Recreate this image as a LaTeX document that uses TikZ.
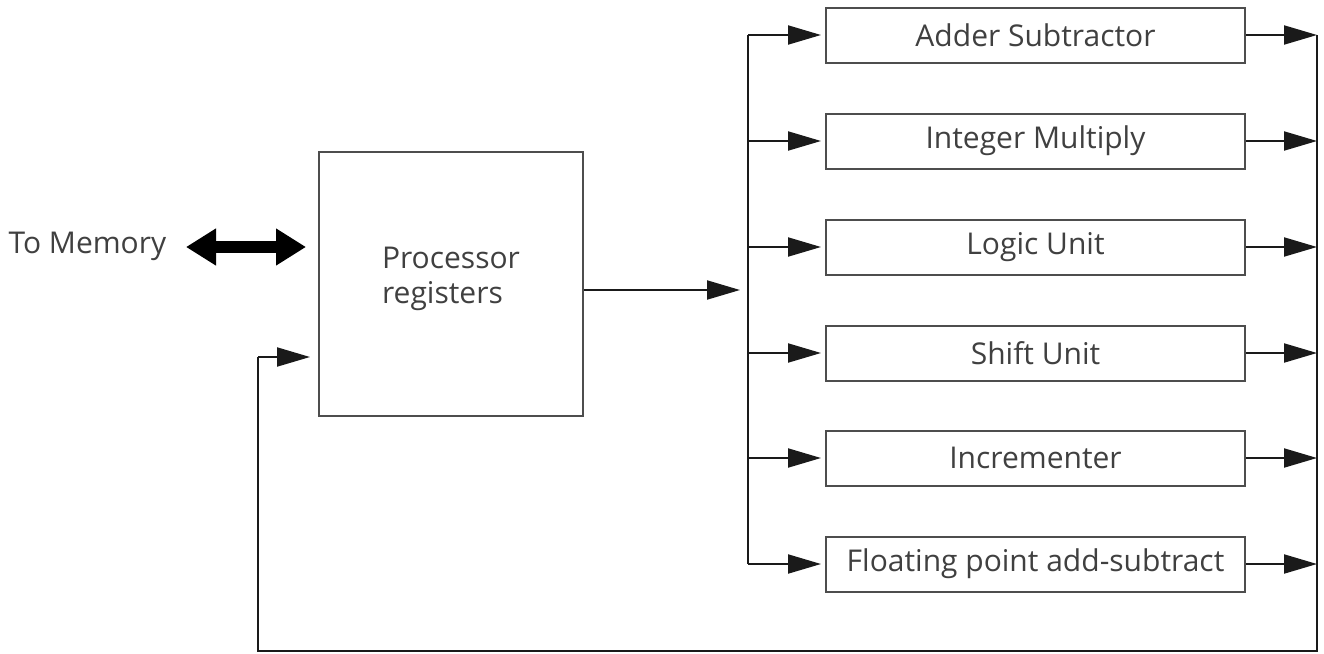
\documentclass[tikz,border=0pt]{standalone}
\usepackage{fontspec}
\setmainfont{Open Sans}
\usetikzlibrary{arrows.meta,calc}
\definecolor{ink}{HTML}{1A1A1A}
\definecolor{boxline}{HTML}{4D4D4D}
\definecolor{txt}{HTML}{404040}
\begin{document}
\begin{tikzpicture}[x=1pt,y=-1pt,
  lbl/.style={text=txt,font=\fontsize{30}{35}\selectfont},
  unitbox/.style={draw=boxline,line width=2pt,minimum width=419pt,minimum height=55pt,
    inner sep=0pt,lbl},
  wire/.style={draw=ink,line width=2pt},
  arr/.style={wire,-{Triangle[length=33pt,width=19pt]}},
  bigarr/.style={draw=black,line width=12pt,{Triangle[length=30pt,width=35pt]}-{Triangle[length=30pt,width=35pt]}}]
\useasboundingbox (0,0) rectangle (1324,653);

% processor register file
\node[draw=boxline,line width=2pt,minimum width=264pt,minimum height=264pt,inner sep=0pt]
  (proc) at (451,284) {};
\node[align=left,lbl] (proclabel) at (451,279) {Processor\\registers};

% memory link
\node[lbl,anchor=west] (mem) at (5,246) {To Memory};
\coordinate (memL) at (186,247);
\coordinate (memR) at (306,247);
\draw[bigarr] (memL) -- (memR);

% functional units
\node[unitbox] (u1) at (1035.5,35)  {Adder Subtractor};
\node[unitbox] (u2) at (1035.5,141) {Integer Multiply};
\node[unitbox] (u3) at (1035.5,247) {Logic Unit};
\node[unitbox] (u4) at (1035.5,353) {Shift Unit};
\node[unitbox] (u5) at (1035.5,458) {Incrementer};
\node[unitbox] (u6) at (1035.5,564) {Floating point add-subtract};

% input bus and output bus
\coordinate (busin) at (748,290);
\coordinate (busout) at (1317,651);
\coordinate (fbcorner) at (258,651);
\coordinate (fbup) at (258,357);

\draw[wire] (u1.west -| busin) -- (u6.west -| busin);
\draw[arr] (proc.east |- busin) -- ($(busin)+(-8,0)$);
\foreach \u in {u1,u2,u3,u4,u5,u6}{
  \draw[arr] (\u.west -| busin) -- ($(\u.west)+(-4,0)$);
  \draw[arr] (\u.east) -- (\u.east -| busout);
}

% results fed back to the registers
\draw[wire] (u1.east -| busout) -- (busout) -- (fbcorner) -- (fbup);
\draw[arr] (fbup) -- ($(proc.west |- fbup)+(-8,0)$);
\end{tikzpicture}
\end{document}
